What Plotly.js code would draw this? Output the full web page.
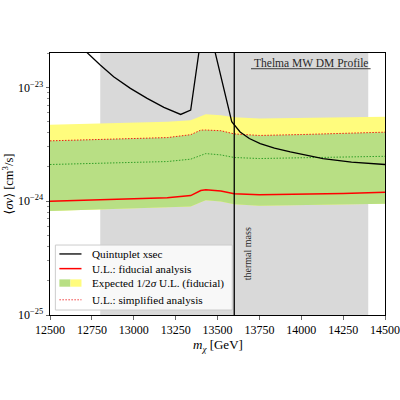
<!DOCTYPE html>
<html>
<head>
<meta charset="utf-8">
<script src="https://cdn.plot.ly/plotly-3.0.1.min.js"></script>
<style>html,body{margin:0;padding:0;background:#fff;}#plot{width:400px;height:400px;}</style>
</head>
<body>
<div id="plot"></div>
<script>
// ---- data ----
const massGrid = [12500, 12750, 13000, 13200, 13340, 13400, 13430, 13520, 13600, 13750, 14000, 14250, 14500];
const ulFiducial = [1.00e-24, 1.03e-24, 1.05e-24, 1.07e-24, 1.12e-24, 1.24e-24, 1.26e-24, 1.23e-24, 1.16e-24, 1.14e-24, 1.15e-24, 1.17e-24, 1.20e-24];
const ulSimplified = [3.39e-24, 3.47e-24, 3.55e-24, 3.62e-24, 3.84e-24, 4.21e-24, 4.22e-24, 4.16e-24, 3.90e-24, 3.78e-24, 3.85e-24, 3.95e-24, 4.04e-24];
const expMedian = [2.10e-24, 2.15e-24, 2.19e-24, 2.23e-24, 2.34e-24, 2.55e-24, 2.62e-24, 2.55e-24, 2.42e-24, 2.37e-24, 2.41e-24, 2.45e-24, 2.48e-24];
const expLower = [8.18e-25, 8.40e-25, 8.60e-25, 8.77e-25, 9.00e-25, 9.80e-25, 1.02e-24, 9.96e-25, 9.40e-25, 9.12e-25, 9.25e-25, 9.40e-25, 9.51e-25];
const exp1sUpper = ulSimplified;
const exp2sUpper = [4.70e-24, 4.80e-24, 4.90e-24, 4.98e-24, 5.15e-24, 5.60e-24, 5.82e-24, 5.70e-24, 5.45e-24, 5.33e-24, 5.40e-24, 5.46e-24, 5.51e-24];

const quintMass = [12650, 12724, 12800, 12880, 12980, 13080, 13180, 13280, 13340, 13425, 13555, 13585, 13635, 13690, 13755, 13840, 13935, 14130, 14300, 14500];
const quintXsec = [2.54e-23, 2.00e-23, 1.57e-23, 1.24e-23, 9.80e-24, 8.00e-24, 6.67e-24, 5.78e-24, 6.31e-24, 4.80e-23, 7.47e-24, 5.00e-24, 4.06e-24, 3.55e-24, 3.21e-24, 2.92e-24, 2.71e-24, 2.37e-24, 2.20e-24, 2.10e-24];

const searchWindow = [12800, 14400];
const thermalMass = 13600;
const xTicks = [12500, 12750, 13000, 13250, 13500, 13750, 14000, 14250, 14500];
const yTicks = [1e-25, 1e-24, 1e-23];
const yTickText = ['10<sup>−25</sup>', '10<sup>−24</sup>', '10<sup>−23</sup>'];
const legendLabels = ['Quintuplet xsec', 'U.L.: fiducial analysis', 'Expected 1/2<i>σ</i> U.L. (fiducial)', 'U.L.: simplified analysis'];

const FONT = 'Liberation Serif, DejaVu Serif, serif';
const YELLOW = 'rgb(255,252,125)';
const GREEN = 'rgb(184,223,132)';

const minorVals = [];
[-25, -24, -23].forEach(e => { for (let k = 2; k <= 9; k++) minorVals.push(k * Math.pow(10, e)); });

const traces = [
  {x: massGrid, y: expLower, mode: 'lines', line: {width: 0}, hoverinfo: 'skip', showlegend: false},
  {x: massGrid, y: exp2sUpper, mode: 'lines', line: {width: 0}, fill: 'tonexty', fillcolor: YELLOW, showlegend: false},
  {x: massGrid, y: expLower, mode: 'lines', line: {width: 0}, hoverinfo: 'skip', showlegend: false},
  {x: massGrid, y: exp1sUpper, mode: 'lines', line: {width: 0}, fill: 'tonexty', fillcolor: GREEN, showlegend: false},
  {x: massGrid, y: expMedian, mode: 'lines', line: {color: 'rgb(50,160,40)', width: 1, dash: '1.5px,1.5px'}, showlegend: false},
  {x: massGrid, y: ulSimplified, mode: 'lines', line: {color: 'rgb(240,30,20)', width: 1, dash: '1.5px,1.5px'}, showlegend: false},
  {x: massGrid, y: ulFiducial, mode: 'lines', line: {color: 'rgb(255,0,0)', width: 1.5}, showlegend: false},
  {x: quintMass, y: quintXsec, mode: 'lines', line: {color: 'black', width: 1.3}, showlegend: false}
];

// legend geometry (paper coords)
const lgX0 = 0.016, lgX1 = 0.544, lgY0 = 0.019, lgY1 = 0.267;
const rowY = [0.233, 0.177, 0.122, 0.058];
const sw0 = 0.028, swMid = 0.061, sw1 = 0.094, txtX = 0.120;

const shapes = [
  {type: 'rect', xref: 'x', yref: 'paper', x0: searchWindow[0], x1: searchWindow[1], y0: 0, y1: 1,
   fillcolor: 'rgb(217,217,217)', line: {width: 0}, layer: 'below'},
  {type: 'line', xref: 'x', yref: 'paper', x0: thermalMass, x1: thermalMass, y0: 0, y1: 1,
   line: {color: 'black', width: 1.3}},
  // legend box
  {type: 'rect', xref: 'paper', yref: 'paper', x0: lgX0, x1: lgX1, y0: lgY0, y1: lgY1,
   fillcolor: 'rgba(255,255,255,0.8)', line: {color: 'rgb(204,204,204)', width: 1}},
  {type: 'line', xref: 'paper', yref: 'paper', x0: sw0, x1: sw1, y0: rowY[0], y1: rowY[0], line: {color: 'black', width: 1.3}},
  {type: 'line', xref: 'paper', yref: 'paper', x0: sw0, x1: sw1, y0: rowY[1], y1: rowY[1], line: {color: 'red', width: 1.5}},
  {type: 'rect', xref: 'paper', yref: 'paper', x0: sw0, x1: swMid, y0: rowY[2] - 0.014, y1: rowY[2] + 0.014, fillcolor: GREEN, line: {width: 0}},
  {type: 'rect', xref: 'paper', yref: 'paper', x0: swMid, x1: sw1, y0: rowY[2] - 0.014, y1: rowY[2] + 0.014, fillcolor: YELLOW, line: {width: 0}},
  {type: 'line', xref: 'paper', yref: 'paper', x0: sw0, x1: sw1, y0: rowY[3], y1: rowY[3], line: {color: 'rgb(240,60,60)', width: 1, dash: '1.5px,1.5px'}},
  // title underline
  {type: 'line', xref: 'paper', yref: 'paper', x0: 0.600, x1: 0.957, y0: 0.940, y1: 0.940, line: {color: 'rgb(60,60,60)', width: 1}}
];

const annotations = legendLabels.map((t, i) => ({
  xref: 'paper', yref: 'paper', x: txtX, y: rowY[i], text: t, showarrow: false,
  xanchor: 'left', yanchor: 'middle', font: {family: FONT, size: 11.2, color: 'black'}
}));
annotations.push({xref: 'paper', yref: 'paper', x: 0.778, y: 0.962, text: 'Thelma MW DM Profile', showarrow: false,
  xanchor: 'center', yanchor: 'middle', font: {family: FONT, size: 11.5, color: 'rgb(40,40,40)'}});
annotations.push({xref: 'x', yref: 'paper', x: thermalMass, xshift: 14, y: 0.233, text: 'thermal mass', showarrow: false,
  textangle: -90, xanchor: 'center', yanchor: 'middle', font: {family: FONT, size: 10, color: 'rgb(40,40,40)'}});
annotations.push({xref: 'paper', yref: 'paper', x: 0.5, y: 0, yshift: -20, text: '<i>m</i><sub><i>χ</i></sub> [GeV]', showarrow: false,
  xanchor: 'center', yanchor: 'top', font: {family: FONT, size: 13, color: 'black'}});

const layout = {
  width: 400, height: 400,
  margin: {l: 50, r: 15, t: 53, b: 85},
  paper_bgcolor: 'white', plot_bgcolor: 'white',
  showlegend: false,
  font: {family: FONT, size: 12, color: 'black'},
  xaxis: {
    range: [12500, 14500], tickmode: 'array', tickvals: xTicks, tickformat: 'd', ticks: 'outside', ticklen: 3.5, tickwidth: 0.8,
    showline: true, linecolor: 'black', linewidth: 1, mirror: true, showgrid: false, zeroline: false,
    tickfont: {family: FONT, size: 12}
  },
  yaxis: {
    type: 'log', range: [-25, -22.698], tickmode: 'array', tickvals: yTicks, ticktext: yTickText,
    ticks: 'outside', ticklen: 3.5, tickwidth: 0.8,
    minor: {tickmode: 'array', tickvals: minorVals, ticks: 'outside', ticklen: 2, tickwidth: 0.6, showgrid: false},
    showline: true, linecolor: 'black', linewidth: 1, mirror: true, showgrid: false, zeroline: false,
    tickfont: {family: FONT, size: 12},
    title: {text: '⟨<i>σv</i>⟩ [cm<sup>3</sup>/s]', font: {family: FONT, size: 12.5}, standoff: 4}
  },
  shapes: shapes,
  annotations: annotations
};

Plotly.newPlot('plot', traces, layout, {staticPlot: true, displayModeBar: false});
</script>
</body>
</html>
